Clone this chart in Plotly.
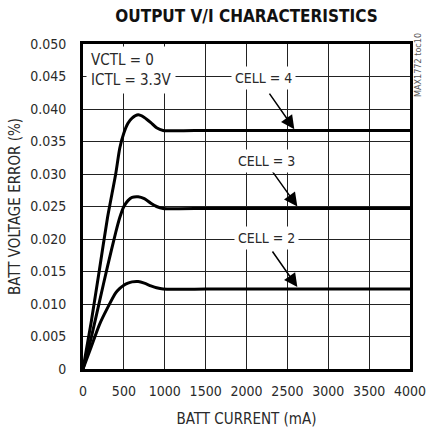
import plotly.graph_objects as go

# Data
current_ma = [0, 100, 200, 300, 400, 450, 500, 550, 600, 675, 750, 830, 900, 980, 1500, 2000, 2500, 3000, 3500, 4000]
cell4 = [0, 0.0072, 0.0152, 0.0233, 0.0300, 0.0340, 0.0363, 0.0378, 0.0386, 0.0391, 0.0387, 0.0379, 0.0371, 0.0367,
         0.0367, 0.0367, 0.0367, 0.0367, 0.0367, 0.0367]
cell3 = [0, 0.0048, 0.0103, 0.0158, 0.0210, 0.0233, 0.0250, 0.0259, 0.0264, 0.0265, 0.0262, 0.0255, 0.0250, 0.0247,
         0.0247, 0.0247, 0.0247, 0.0247, 0.0247, 0.0247]
cell2 = [0, 0.0034, 0.0068, 0.0094, 0.0117, 0.0124, 0.0129, 0.0132, 0.0134, 0.01345, 0.0132, 0.0128, 0.0125, 0.0123,
         0.0123, 0.0123, 0.0123, 0.0123, 0.0123, 0.0123]

x_ticks = [0, 500, 1000, 1500, 2000, 2500, 3000, 3500, 4000]
x_tick_labels = ["0", "500", "1000", "1500", "2000", "2500", "3000", "3500", "4000"]
y_ticks = [0, 0.005, 0.010, 0.015, 0.020, 0.025, 0.030, 0.035, 0.040, 0.045, 0.050]
y_tick_labels = ["0", "0.005", "0.010", "0.015", "0.020", "0.025", "0.030", "0.035", "0.040", "0.045", "0.050"]

# label text, label position, arrow tail, arrow tip
cell_labels = ["CELL = 4", "CELL = 3", "CELL = 2"]
label_x = [2207, 2250, 2250]
label_y = [0.0448, 0.0320, 0.0202]
tail_x = [2268, 2305, 2305]
tail_y = [0.0426, 0.0306, 0.0183]
tip_x = [2585, 2622, 2622]
tip_y = [0.0369, 0.0250, 0.0126]

FONT = "DejaVu Sans Condensed, Liberation Sans Narrow, Liberation Sans, sans-serif"
TXT = "#2a2a2a"
FS = 14

fig = go.Figure()
for ys in (cell4, cell3, cell2):
    fig.add_trace(go.Scatter(x=current_ma, y=ys, mode="lines",
                             line=dict(color="black", width=3, shape="spline", smoothing=0.6),
                             showlegend=False, hoverinfo="skip"))

annotations = []
for i in range(3):
    annotations.append(dict(x=tip_x[i], y=tip_y[i], ax=tail_x[i], ay=tail_y[i], axref="x", ayref="y",
                            xref="x", yref="y", text="", showarrow=True, arrowhead=2, arrowsize=1.8,
                            arrowwidth=1.5, arrowcolor="black", standoff=0, startstandoff=0))
    annotations.append(dict(x=label_x[i], y=label_y[i], xref="x", yref="y", text=cell_labels[i],
                            showarrow=False, bgcolor="white", borderpad=3,
                            font=dict(family=FONT, size=FS, color=TXT)))

annotations.append(dict(x=0, y=1, xref="paper", yref="paper", xanchor="left", yanchor="top",
                        text="VCTL = 0<br>ICTL = 3.3V", align="left", showarrow=False,
                        bgcolor="white", borderpad=4, xshift=3, yshift=-2,
                        font=dict(family=FONT, size=15, color=TXT)))
annotations.append(dict(x=1, y=1, xref="paper", yref="paper", xanchor="center", yanchor="top",
                        text="MAX1772 toc10", textangle=-90, showarrow=False, xshift=8, yshift=13,
                        font=dict(family=FONT, size=9, color="#555")))

fig.update_layout(
    width=426, height=431,
    margin=dict(l=83, r=16, t=44, b=62),
    paper_bgcolor="white", plot_bgcolor="white",
    title=dict(text="<b>OUTPUT V/I CHARACTERISTICS</b>", x=0.5, xref="paper", xanchor="center",
               y=0.963, yref="container", yanchor="middle",
               font=dict(family=FONT, size=17, color="#111")),
    annotations=annotations,
    font=dict(family=FONT, size=FS, color=TXT),
)
fig.update_xaxes(range=[0, 4000], tickvals=x_ticks, ticktext=x_tick_labels, tickangle=0,
                 automargin=False, ticklabeloverflow="allow",
                 showgrid=True, gridcolor="#222", gridwidth=1,
                 showline=True, linecolor="black", linewidth=3, mirror=True,
                 zeroline=False, ticks="", ticklabelstandoff=7,
                 title=dict(text="BATT CURRENT (mA)", standoff=16, font=dict(family=FONT, size=15, color=TXT)),
                 tickfont=dict(family=FONT, size=FS, color=TXT))
fig.update_yaxes(range=[0, 0.050], tickvals=y_ticks, ticktext=y_tick_labels,
                 automargin=False, ticklabeloverflow="allow",
                 showgrid=True, gridcolor="#222", gridwidth=1,
                 showline=True, linecolor="black", linewidth=3, mirror=True,
                 zeroline=False, ticks="", ticklabelstandoff=11,
                 title=dict(text="BATT VOLTAGE ERROR (%)", standoff=6, font=dict(family=FONT, size=15, color=TXT)),
                 tickfont=dict(family=FONT, size=FS, color=TXT))

fig.write_html("out.html", config={"displayModeBar": False},
               post_script="document.body.style.margin='0';")
